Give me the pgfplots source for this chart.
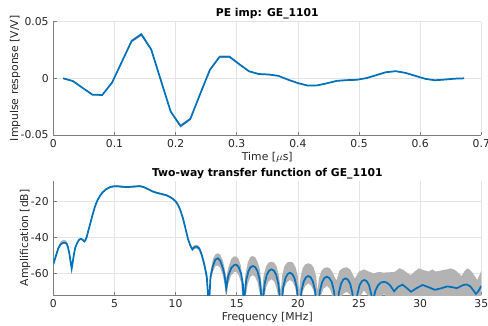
\documentclass[border=0pt]{standalone}
\usepackage{fontspec}
\setmainfont{DejaVu Sans}
\usepackage{pgfplots}
\pgfplotsset{compat=1.18}
\definecolor{mblue}{RGB}{0,114,189}
\definecolor{band}{RGB}{179,179,179}
\definecolor{axc}{RGB}{38,38,38}
\definecolor{gridc}{RGB}{228,228,228}
\pgfplotsset{
 every axis title/.style={at={(0.5,1)}, anchor=center, font=\bfseries\fontsize{8.1}{9.7}\selectfont, text=black},
 mystyle/.style={
  scale only axis, width=321pt,
  axis x line*=bottom, axis y line*=left,
  axis line style={draw=axc!60, line width=0.5pt, -},
  tick align=inside, major tick length=2.6pt,
  tick style={draw=axc!60, line width=0.5pt},
  grid=major, major grid style={draw=gridc, line width=0.4pt},
  scaled x ticks=false, scaled y ticks=false,
  font=\fontsize{8.1}{9.7}\selectfont,
  tick label style={font=\fontsize{8.1}{9.7}\selectfont, text=axc},
  label style={font=\fontsize{8.1}{9.7}\selectfont, text=axc},
 }}
\begin{document}
\begin{tikzpicture}
\useasboundingbox (0,0) rectangle (366pt,243.75pt);
\begin{axis}[mystyle, at={(40pt,142.5pt)}, anchor=south west, height=85pt,
  xmin=0, xmax=0.7, ymin=-0.05, ymax=0.05,
  xtick={0,0.1,0.2,0.3,0.4,0.5,0.6,0.7},
  xticklabels={0,0.1,0.2,0.3,0.4,0.5,0.6,0.7},
  ytick={-0.05,0,0.05}, yticklabels={-0.05,0,0.05},
  title={PE imp: GE\_1101},
  title style={at={(axis description cs:0.5,1.068)}},
  xlabel={Time [$\mu$s]},
  xlabel style={at={(axis description cs:0.5,-0.195)}, anchor=center},
  ylabel={Impulse response [V/V]},
  ylabel style={at={(axis description cs:-0.0894,0.5)}, anchor=center}]
\addplot[fill=band, draw=none] coordinates {
(0.016,0.0005) (0.032,-0.0019) (0.048,-0.0080) (0.064,-0.0138) (0.080,-0.0141)
(0.096,-0.0032) (0.112,0.0153) (0.128,0.0341) (0.144,0.0402) (0.160,0.0266)
(0.176,-0.0012) (0.192,-0.0284) (0.208,-0.0407) (0.224,-0.0347) (0.240,-0.0132)
(0.256,0.0082) (0.272,0.0201) (0.288,0.0201) (0.304,0.0131) (0.320,0.0067)
(0.336,0.0042) (0.352,0.0038) (0.368,0.0026) (0.384,-0.0008) (0.400,-0.0038)
(0.416,-0.0060) (0.432,-0.0058) (0.448,-0.0039) (0.464,-0.0018) (0.480,-0.0012)
(0.496,-0.0009) (0.512,0.0006) (0.528,0.0032) (0.544,0.0058) (0.560,0.0067)
(0.576,0.0052) (0.592,0.0026) (0.608,0.0000) (0.624,-0.0013) (0.640,-0.0007)
(0.656,0.0001) (0.672,0.0004)
(0.672,-0.0004) (0.656,-0.0007) (0.640,-0.0015) (0.624,-0.0021) (0.608,-0.0008)
(0.592,0.0018) (0.576,0.0044) (0.560,0.0059) (0.544,0.0050) (0.528,0.0024)
(0.512,-0.0002) (0.496,-0.0017) (0.480,-0.0020) (0.464,-0.0026) (0.448,-0.0047)
(0.432,-0.0066) (0.416,-0.0068) (0.400,-0.0046) (0.384,-0.0016) (0.368,0.0018)
(0.352,0.0030) (0.336,0.0034) (0.320,0.0057) (0.304,0.0119) (0.288,0.0181)
(0.272,0.0181) (0.256,0.0066) (0.240,-0.0148) (0.224,-0.0371) (0.208,-0.0435)
(0.192,-0.0304) (0.176,-0.0028) (0.160,0.0246) (0.144,0.0374) (0.128,0.0317)
(0.112,0.0137) (0.096,-0.0044) (0.080,-0.0153) (0.064,-0.0150) (0.048,-0.0090)
(0.032,-0.0029) (0.016,-0.0005)} -- cycle;
\addplot[mblue, line width=1.3pt] coordinates {
(0.016,0) (0.032,-0.0024) (0.048,-0.0085) (0.064,-0.0144) (0.080,-0.0147)
(0.096,-0.0038) (0.112,0.0145) (0.128,0.0329) (0.144,0.0388) (0.160,0.0256)
(0.176,-0.0020) (0.192,-0.0294) (0.208,-0.0421) (0.224,-0.0359) (0.240,-0.0140)
(0.256,0.0074) (0.272,0.0191) (0.288,0.0191) (0.304,0.0125) (0.320,0.0062)
(0.336,0.0038) (0.352,0.0034) (0.368,0.0022) (0.384,-0.0012) (0.400,-0.0042)
(0.416,-0.0064) (0.432,-0.0062) (0.448,-0.0043) (0.464,-0.0022) (0.480,-0.0016)
(0.496,-0.0013) (0.512,0.0002) (0.528,0.0028) (0.544,0.0054) (0.560,0.0063)
(0.576,0.0048) (0.592,0.0022) (0.608,-0.0004) (0.624,-0.0017) (0.640,-0.0011)
(0.656,-0.0003) (0.672,0)};
\end{axis}
\begin{axis}[mystyle, at={(40pt,22.5pt)}, anchor=south west, height=85.7pt,
  xmin=0, xmax=35, ymin=-72.1, ymax=-8.3,
  xtick={0,5,10,15,20,25,30,35}, xticklabels={0,5,10,15,20,25,30,35},
  ytick={-60,-40,-20}, yticklabels={-60,-40,-20},
  title={Two-way transfer function of GE\_1101},
  title style={at={(axis description cs:0.5,1.066)}},
  xlabel={Frequency [MHz]},
  xlabel style={at={(axis description cs:0.5,-0.195)}, anchor=center},
  ylabel={Amplification [dB]},
  ylabel style={at={(axis description cs:-0.066,0.5)}, anchor=center}]
\addplot[fill=band, draw=none] coordinates {
(0,-54.3) (0.2,-49.5) (0.41,-44.8) (0.6,-42.3) (0.82,-41.3) (1.0,-41.6) (1.1,-42.3)
(1.2,-44.3) (1.3,-47.5) (1.4,-52.2) (1.5,-56.5) (1.58,-53.2) (1.69,-48.4) (1.8,-44.8)
(1.96,-42.3) (2.1,-40.8) (2.26,-40.2) (2.4,-40.8) (2.53,-41.7) (2.62,-41.0) (2.72,-39.4)
(2.85,-36.0) (2.99,-32.5) (3.2,-27.0) (3.4,-22.3) (3.6,-18.8) (3.81,-16.3) (4.05,-14.1)
(4.35,-12.4) (4.65,-11.3) (4.97,-10.9) (5.3,-10.9) (5.71,-11.2) (6.1,-11.3) (6.52,-11.1)
(7.07,-10.8) (7.4,-11.4) (7.75,-12.5) (8.1,-13.7) (8.43,-14.5) (8.85,-15.2) (9.25,-15.9)
(9.55,-16.9) (9.79,-18.0) (10.0,-19.3) (10.2,-21.3) (10.4,-24.5) (10.6,-28.8) (10.8,-34.3)
(11.0,-39.8) (11.2,-43.6) (11.37,-45.5) (11.55,-44.2) (11.7,-44.0) (11.85,-44.4) (11.96,-45.3)
(12.15,-48.5) (12.37,-54.0) (12.55,-59.5) (12.72,-75) (12.85,-59.5) (13.05,-52.0) (13.25,-49.5)
(13.46,-48.8) (13.65,-49.5) (13.87,-53.0) (14.0,-57.0) (14.14,-63.0) (14.3,-57.0) (14.55,-52.0)
(14.8,-50.5) (14.96,-50.5) (15.15,-52.0) (15.35,-56.0) (15.57,-74)
(15.7,-61) (15.9,-54) (16.1,-51) (16.3,-50.3) (16.5,-51) (16.7,-53.5) (16.9,-58) (17.08,-70)
(17.2,-61) (17.4,-56) (17.6,-54) (17.84,-53.5) (18.05,-54) (18.25,-56) (18.45,-61) (18.6,-70)
(18.72,-61) (18.9,-56) (19.1,-54) (19.35,-53.5) (19.6,-54) (19.8,-56.5) (19.98,-61) (20.1,-70)
(20.22,-62) (20.4,-57) (20.6,-55) (20.85,-54.4) (21.1,-55) (21.3,-57) (21.5,-62) (21.6,-70)
(21.72,-63) (21.9,-59) (22.1,-57.2) (22.37,-56.6) (22.6,-57.2) (22.8,-59) (23.0,-62) (23.15,-64)
(23.4,-58.5) (23.7,-57) (24.0,-56.6) (24.3,-58) (24.66,-63) (25.0,-59) (25.4,-57.8) (25.8,-59)
(26.2,-60) (26.6,-59.2) (27.0,-59.6) (27.5,-59.4) (27.9,-59.2) (28.3,-57.2) (28.6,-58)
(28.9,-59.5) (29.23,-61) (29.55,-59) (29.9,-57.2) (30.3,-58.3) (30.7,-59) (31.0,-57.8)
(31.26,-59) (31.5,-58.7) (31.8,-58.3) (32.2,-57.8) (32.5,-57.2) (32.8,-58) (33.0,-59)
(33.4,-61.5) (33.6,-59) (33.85,-57.2) (34.05,-58) (34.26,-59.5) (34.5,-62) (34.67,-63.7)
(34.85,-61) (35,-58.5)
(35,-85) (27.9,-85) (27.5,-76) (27.05,-71.5) (26.6,-74) (26.2,-85) (25.9,-74) (25.4,-69.5)
(24.9,-75) (24.66,-85) (24.3,-72) (24.0,-70.3) (23.7,-71.5) (23.4,-76) (23.15,-85)
(23.0,-80) (22.8,-72) (22.6,-68.5) (22.37,-67) (22.1,-68.5) (21.9,-72) (21.72,-80) (21.6,-85)
(21.5,-78) (21.3,-70) (21.1,-67) (20.85,-65.6) (20.6,-67) (20.4,-70) (20.22,-78) (20.1,-85)
(19.98,-76) (19.8,-68.5) (19.6,-65) (19.35,-63.7) (19.1,-65) (18.9,-68) (18.72,-76) (18.6,-85)
(18.45,-75) (18.25,-68) (18.05,-64.5) (17.84,-63.3) (17.6,-64.5) (17.4,-68) (17.2,-76) (17.08,-85)
(16.9,-72) (16.7,-65) (16.5,-62) (16.3,-61) (16.1,-62) (15.9,-66) (15.7,-74) (15.57,-85)
(15.35,-65) (15.15,-61) (14.96,-59.2) (14.8,-59.2) (14.55,-61) (14.3,-66) (14.14,-75)
(14.0,-66) (13.87,-61.5) (13.65,-57) (13.46,-55.6) (13.25,-56) (13.05,-59) (12.85,-65)
(12.72,-85) (12.55,-65) (12.37,-58) (12.15,-51.5) (11.96,-47.6) (11.85,-46.8) (11.7,-46.2)
(11.55,-46.4) (11.37,-47.6) (11.2,-45.4) (11.0,-41.2) (10.8,-35.3) (10.6,-29.8) (10.4,-25.5)
(10.2,-22.3) (10.0,-20.3) (9.79,-19.0) (9.55,-17.9) (9.25,-16.9) (8.85,-16.2) (8.43,-15.5)
(8.1,-14.7) (7.75,-13.5) (7.4,-12.3) (7.07,-11.8) (6.52,-12.1) (6.1,-12.4) (5.71,-12.3)
(5.3,-12.0) (4.97,-11.9) (4.65,-12.5) (4.35,-13.4) (4.05,-15.1) (3.81,-17.3) (3.6,-19.8)
(3.4,-23.3) (3.2,-28.0) (2.99,-33.5) (2.85,-37.0) (2.72,-40.4) (2.62,-42.0) (2.53,-42.7)
(2.4,-41.8) (2.26,-41.2) (2.1,-41.8) (1.96,-43.4) (1.8,-46.0) (1.69,-49.8) (1.58,-54.8)
(1.5,-58.0) (1.4,-54.0) (1.3,-49.3) (1.2,-46.2) (1.1,-44.2) (1.0,-43.6) (0.82,-43.5)
(0.6,-44.4) (0.41,-46.6) (0.2,-51.0) (0,-55.6)} -- cycle;
\addplot[mblue, line width=1.3pt] coordinates {
(0,-55.0) (0.2,-50.5) (0.41,-46.0) (0.6,-43.8) (0.82,-42.9) (1.0,-43.0) (1.1,-43.6)
(1.2,-45.5) (1.3,-48.5) (1.4,-53.0) (1.5,-57.3) (1.58,-54.0) (1.69,-49.2) (1.8,-45.5)
(1.96,-42.9) (2.1,-41.3) (2.26,-40.7) (2.4,-41.3) (2.53,-42.2) (2.62,-41.5) (2.72,-39.9)
(2.85,-36.5) (2.99,-33.0) (3.2,-27.5) (3.4,-22.8) (3.6,-19.3) (3.81,-16.8) (4.05,-14.6)
(4.35,-12.9) (4.65,-11.8) (4.97,-11.4) (5.3,-11.4) (5.71,-11.7) (6.1,-11.8) (6.52,-11.6)
(7.07,-11.3) (7.4,-11.9) (7.75,-13.0) (8.1,-14.2) (8.43,-15.0) (8.85,-15.7) (9.25,-16.4)
(9.55,-17.4) (9.79,-18.5) (10.0,-19.8) (10.2,-21.8) (10.4,-25.0) (10.6,-29.3) (10.8,-34.8)
(11.0,-40.5) (11.2,-44.5) (11.37,-46.6) (11.55,-45.3) (11.7,-45.1) (11.85,-45.6) (11.96,-46.5)
(12.15,-50.0) (12.37,-55.8) (12.55,-62.0) (12.72,-80) (12.85,-62.0) (13.05,-55.9) (13.25,-52.3)
(13.46,-51.6) (13.65,-53.0) (13.87,-57.2) (14.0,-61.0) (14.14,-68.4) (14.3,-61.5) (14.55,-57.0)
(14.8,-55.3) (14.96,-55.2) (15.15,-56.5) (15.35,-60.0) (15.5,-66.0) (15.57,-80)
(15.65,-71.9) (15.77,-63.9) (15.95,-58.9) (16.12,-56.6) (16.32,-55.9) (16.52,-56.6) (16.70,-58.9)
(16.88,-63.9) (17.0,-71.9) (17.08,-80)
(17.16,-73.8) (17.28,-65.8) (17.46,-60.8) (17.64,-58.5) (17.84,-57.8) (18.04,-58.5) (18.22,-60.8)
(18.4,-65.8) (18.52,-73.8) (18.6,-80)
(18.68,-75.7) (18.8,-67.7) (18.98,-62.7) (19.16,-60.4) (19.35,-59.7) (19.54,-60.4) (19.72,-62.7)
(19.9,-67.7) (20.02,-75.7) (20.1,-80)
(20.18,-77.5) (20.3,-69.5) (20.48,-64.5) (20.66,-62.2) (20.85,-61.5) (21.04,-62.2) (21.22,-64.5)
(21.4,-69.5) (21.52,-77.5) (21.6,-80)
(21.68,-77.9) (21.8,-69.9) (21.98,-64.9) (22.17,-62.6) (22.37,-61.9) (22.57,-62.6) (22.77,-64.9)
(22.95,-69.9) (23.07,-77.9) (23.15,-82)
(23.23,-78.8) (23.35,-70.8) (23.53,-65.8) (23.71,-63.5) (23.9,-62.8) (24.09,-63.5) (24.27,-65.8)
(24.45,-70.8) (24.58,-78.8) (24.66,-82)
(24.74,-79) (24.86,-71.7) (25.04,-66.7) (25.23,-64.4) (25.43,-63.7) (25.63,-64.4) (25.82,-66.7)
(26.0,-71.7) (26.12,-76) (26.2,-73.5)
(26.35,-69.5) (26.55,-66.7) (26.8,-65.1) (27.05,-64.7) (27.3,-65.3) (27.55,-66.8) (27.87,-70.0)
(28.2,-67.5) (28.55,-66.3) (28.9,-68.2) (29.25,-70.3) (29.7,-68.3) (30.2,-66.5) (30.7,-67.8)
(31.2,-69.2) (31.7,-68.4) (32.2,-67.3) (32.6,-67.7) (33.0,-68.3) (33.5,-66.6) (33.8,-66.2)
(34.1,-67.3) (34.35,-69.5) (34.55,-71.5) (34.75,-70.0) (35.0,-67.0)};
\end{axis}
\end{tikzpicture}
\end{document}
